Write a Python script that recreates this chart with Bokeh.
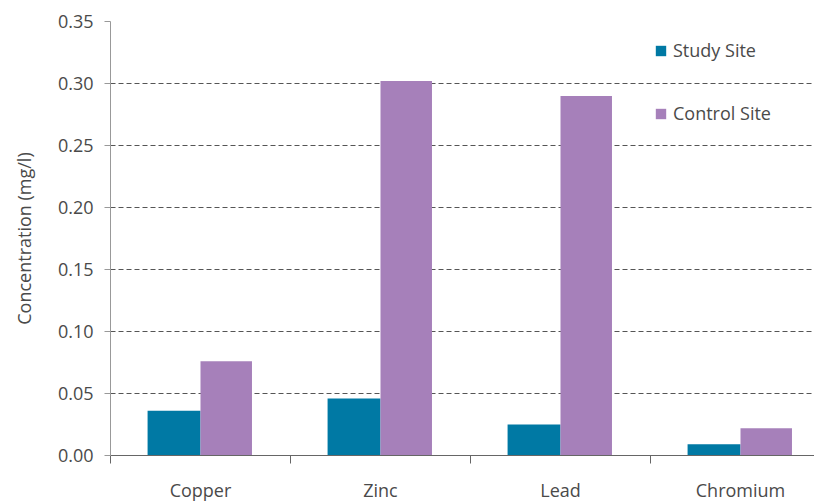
from bokeh.plotting import figure
from bokeh.models import FixedTicker, NumeralTickFormatter, ColumnDataSource, Range1d, Legend, LegendItem
from bokeh.embed import file_html
from bokeh.resources import INLINE
import numpy as np

categories = ["Copper", "Zinc", "Lead", "Chromium"]
study_site = [0.036, 0.046, 0.025, 0.009]
control_site = [0.076, 0.302, 0.290, 0.022]
y_ticks = [0.0, 0.05, 0.10, 0.15, 0.20, 0.25, 0.30, 0.35]

FONT = "Open Sans"
TXT = "#4a4a4a"
FS = "18px"

idx = np.arange(len(categories))
centers = idx + 0.5
src = ColumnDataSource(dict(
    xs=centers - 0.147, xc=centers + 0.143,
    study=study_site, control=control_site))

p = figure(width=814, height=504, output_backend="svg", toolbar_location=None,
           x_range=Range1d(0, 704 / 180), y_range=Range1d(0, 0.35),
           min_border_left=110, min_border_right=0, min_border_top=21, min_border_bottom=49)
p.outline_line_color = None

r1 = p.vbar(x="xs", top="study", width=0.294, bottom=0, source=src,
            fill_color="#0079A4", line_color=None)
r2 = p.vbar(x="xc", top="control", width=0.286, bottom=0, source=src,
            fill_color="#A680BA", line_color=None)

# x axis
p.xaxis.ticker = FixedTicker(ticks=list(centers), minor_ticks=[0, 1, 2, 3])
p.xaxis.major_label_overrides = {float(c): n for c, n in zip(centers, categories)}
p.xaxis.major_tick_line_color = None
p.xaxis.major_tick_out = 0
p.xaxis.major_tick_in = 0
p.xaxis.minor_tick_out = 8
p.xaxis.minor_tick_in = 0
p.xaxis.minor_tick_line_color = "#666666"
p.xaxis.axis_line_color = "#666666"
p.xaxis.major_label_standoff = 14
p.xaxis.major_label_text_font = FONT
p.xaxis.major_label_text_font_size = FS
p.xaxis.major_label_text_color = TXT

# y axis
p.yaxis.ticker = FixedTicker(ticks=y_ticks)
p.yaxis.formatter = NumeralTickFormatter(format="0.00")
p.yaxis.axis_line_color = "#999999"
p.yaxis.major_tick_line_color = "#999999"
p.yaxis.major_tick_out = 6
p.yaxis.major_tick_in = 0
p.yaxis.minor_tick_line_color = None
p.yaxis.major_label_standoff = 11
p.yaxis.major_label_text_font = FONT
p.yaxis.major_label_text_font_size = FS
p.yaxis.major_label_text_color = TXT
p.yaxis.axis_label = "Concentration (mg/l)"
p.yaxis.axis_label_text_font = FONT
p.yaxis.axis_label_text_font_size = FS
p.yaxis.axis_label_text_font_style = "normal"
p.yaxis.axis_label_text_color = TXT
p.yaxis.axis_label_standoff = 19

p.xgrid.grid_line_color = None
p.ygrid.ticker = FixedTicker(ticks=y_ticks[1:])
p.ygrid.grid_line_color = "#555555"
p.ygrid.grid_line_dash = "5 3"
p.ygrid.grid_line_width = 1

legend = Legend(items=[LegendItem(label="Study Site", renderers=[r1]),
                       LegendItem(label="Control Site", renderers=[r2])],
                location=(544, 330))
legend.background_fill_alpha = 0
legend.border_line_color = None
legend.padding = 0
legend.margin = 0
legend.spacing = 39
legend.glyph_width = 13
legend.glyph_height = 13
legend.label_standoff = 6
legend.label_text_font = FONT
legend.label_text_font_size = FS
legend.label_text_color = TXT
p.add_layout(legend, "center")

open("out.html", "w").write(file_html(p, INLINE))
